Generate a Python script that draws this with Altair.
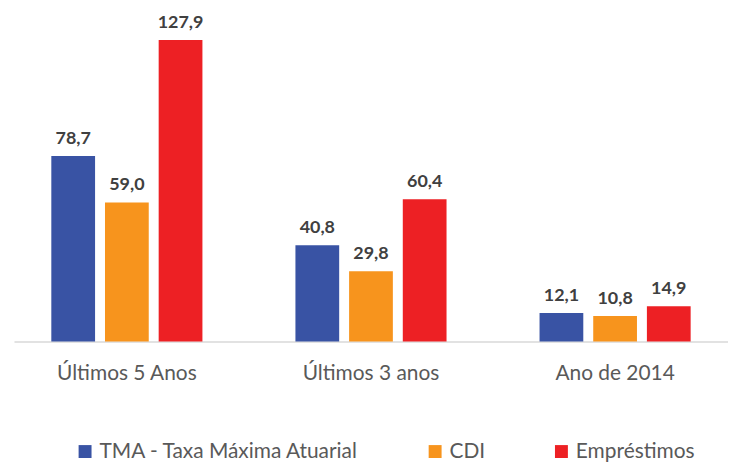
import altair as alt
import pandas as pd

categories = ["Últimos 5 Anos", "Últimos 3 anos", "Ano de 2014"]
series = ["TMA - Taxa Máxima Atuarial", "CDI", "Empréstimos"]
tma = [78.7, 40.8, 12.1]
cdi = [59.0, 29.8, 10.8]
emp = [127.9, 60.4, 14.9]
colors = ["#3953a4", "#f7941d", "#ed2024"]

rows = []
for i, c in enumerate(categories):
    for s, vals in zip(series, [tma, cdi, emp]):
        rows.append({"cat": c, "serie": s, "valor": vals[i],
                     "rotulo": f"{vals[i]:.1f}".replace(".", ",")})
df = pd.DataFrame(rows)

FONT = "Lato"

x = alt.X("cat:N", sort=categories, title=None,
          scale=alt.Scale(paddingInner=0.381, paddingOuter=0.153),
          axis=alt.Axis(labelAngle=0, ticks=False, labelPadding=38,
                        labelBaseline="alphabetic", labelFontSize=21,
                        labelColor="#595959", labelFont=FONT,
                        domainColor="#d9d9d9", domainWidth=1.5, grid=False))
xo = alt.XOffset("serie:N", sort=series,
                 scale=alt.Scale(paddingInner=0.185, paddingOuter=0))
y = alt.Y("valor:Q", scale=alt.Scale(domain=[0, 141], nice=False), axis=None)

bars = alt.Chart(df).mark_bar().encode(
    x=x, xOffset=xo, y=y,
    color=alt.Color("serie:N", sort=series,
                    scale=alt.Scale(domain=series, range=colors),
                    legend=alt.Legend(title=None, orient="none", direction="horizontal",
                                      legendX=61, legendY=434, symbolType="square",
                                      symbolSize=169, symbolStrokeWidth=0,
                                      labelFontSize=21, labelFont=FONT, labelLimit=0,
                                      labelColor="#595959", labelOffset=4,
                                      columnPadding=66, padding=0)),
)

labels = alt.Chart(df).mark_text(dy=-12, baseline="alphabetic", fontSize=18,
                                 fontWeight="bold", font=FONT, color="#404040").encode(
    x=x, xOffset=xo, y=y, text="rotulo:N")

chart = alt.layer(bars, labels).properties(
    width=718, height=334,
    padding={"left": 6, "top": 0, "right": 0, "bottom": 0}
).configure_view(stroke=None)

chart.save("out.html", embed_options={"renderer": "svg", "actions": False})
